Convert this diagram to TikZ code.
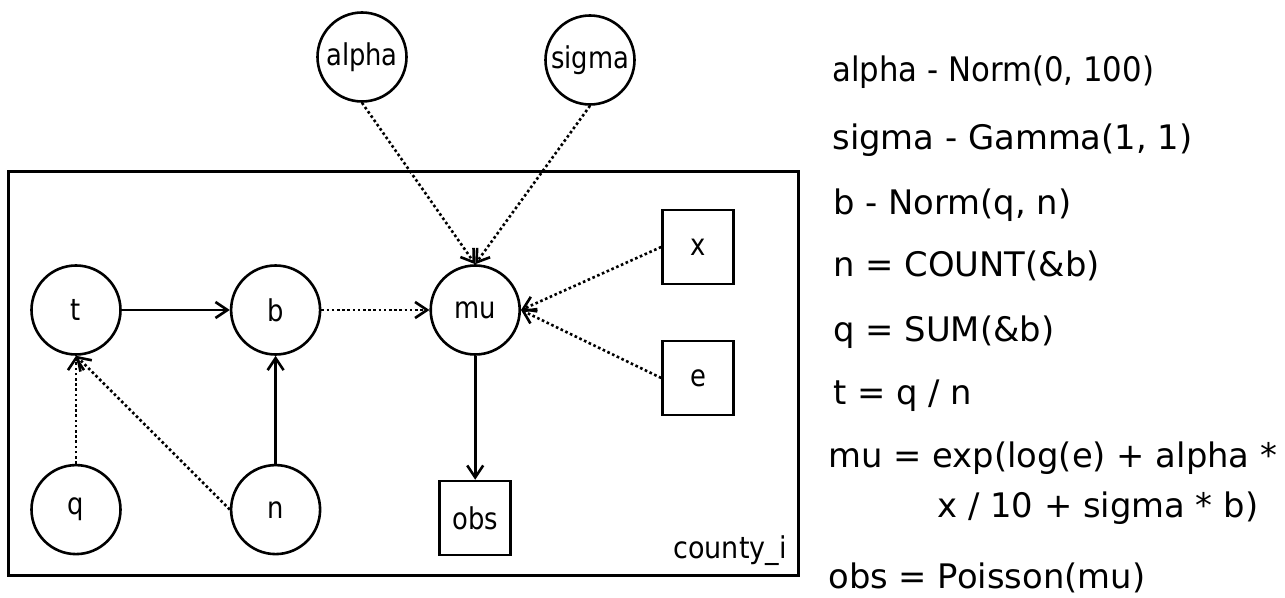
\documentclass[tikz,border=0pt]{standalone}
\usepackage{fontspec}
\setmainfont{DejaVu Sans}
\usepackage{graphicx}
\usepackage{tikz}
\usetikzlibrary{arrows.meta,positioning}
% narrow node labels
\newcommand{\nlabel}[1]{\scalebox{0.86}[1]{#1}}
\tikzset{
    %Define standard arrow tip
    >={Straight Barb[length=6pt,width=8pt]},
    %Define style for random nodes
    varnode/.style={
           circle,
           draw=black, line width=1.3pt,
           minimum size=44.5pt,
           inner sep=0pt,
           font=\fontsize{15}{17}\selectfont,
           text centered},
    %Define style for data nodes
    datanode/.style={
           rectangle,
           draw=black, line width=1.3pt,
           minimum width=35.5pt,
           minimum height=37pt,
           inner sep=0pt,
           font=\fontsize{15}{17}\selectfont,
           text centered},
    %Define style for the model lines
    modeltext/.style={
           anchor=base west,
           inner sep=0pt,
           font=\fontsize{16.9}{19}\selectfont},
    % Define arrow styles
    link/.style={
           ->,
           line width=1.3pt},
    dep/.style={
           ->,
           line width=1.3pt,
           dash pattern=on 1.3pt off 1.3pt},
    plate/.style={
           draw=black,
           line width=1.5pt}
}
\begin{document}
\begin{tikzpicture}[x=0.5pt,y=-0.5pt,node distance=54pt]
\useasboundingbox (0,0) rectangle (1285,598);
% plate
\draw[plate] (8,172) rectangle (798,575);
\node[anchor=base east,inner sep=0pt,font=\fontsize{15}{17}\selectfont](county) at (787,558){\scalebox{0.9}[1]{county\_i}};
% nodes
\node[varnode](alpha) at (362,57){\nlabel{alpha}};
\node[varnode](sigma) at (590,60){\nlabel{sigma}};
\node[varnode](t) at (76,310){\nlabel{t}};
\node[varnode, right=of t](b){\nlabel{b}};
\node[varnode, right=of b](mu){\nlabel{mu}};
\node[varnode, below=of t](q){\nlabel{q}};
\node[varnode, below=of b](n){\nlabel{n}};
\node[datanode, below=62pt of mu](obs){\nlabel{obs}};
\node[datanode](x) at (698,247){\nlabel{x}};
\node[datanode](e) at (698,378){\nlabel{e}};
% edges
\draw[link] (t) -- (b);
\draw[link] (n) -- (b);
\draw[link] (mu) -- (obs);
\draw[dep] (b) -- (mu);
\draw[dep] (q) -- (t);
\draw[dep] (n.west) -- (t.south);
\draw[dep] (alpha.south) -- (mu.north);
\draw[dep] (sigma.south) -- (mu.north);
\draw[dep] (x.west) -- (mu.east);
\draw[dep] (e.west) -- (mu.east);
% model
\node[modeltext](l1) at (832,82){\scalebox{0.91}[1]{alpha - Norm(0, 100)}};
\node[modeltext](l2) at (832,150){sigma - Gamma(1, 1)};
\node[modeltext](l3) at (833,215){b - Norm(q, n)};
\node[modeltext](l4) at (833,277){n = COUNT(\&b)};
\node[modeltext](l5) at (833,342){q = SUM(\&b)};
\node[modeltext](l6) at (833,405){t = q / n};
\node[modeltext](l7) at (828,467){mu = exp(log(e) + alpha *};
\node[modeltext](l8) at (937,517){x / 10 + sigma * b)};
\node[modeltext](l9) at (828,588){obs = Poisson(mu)};
\end{tikzpicture}
\end{document}
